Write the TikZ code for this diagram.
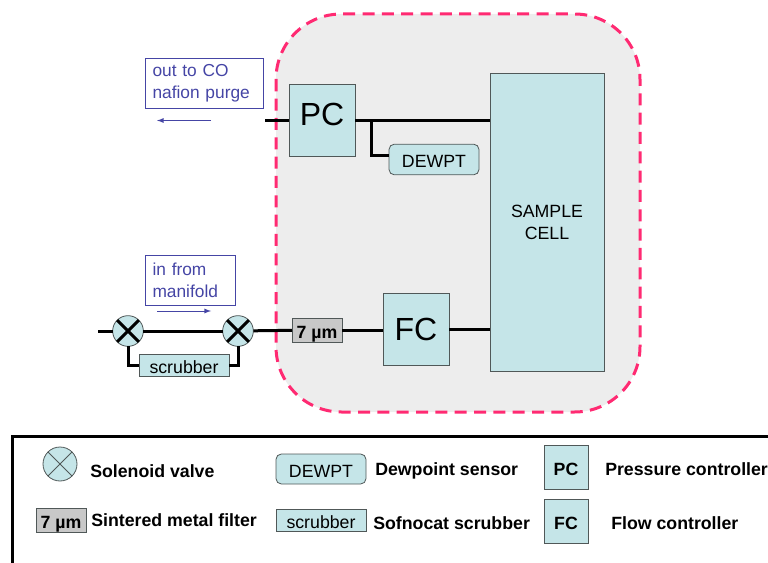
\documentclass[tikz,border=0pt]{standalone}
\usepackage{fontspec}
\setmainfont{Liberation Sans}
\usepackage{tikz}
\usetikzlibrary{arrows,calc}
\definecolor{paleCyan}{HTML}{C5E5E8}
\definecolor{cellGrey}{HTML}{EDEDED}
\definecolor{filterGrey}{HTML}{C8C8C8}
\definecolor{dashPink}{HTML}{FF2A72}
\definecolor{noteBlue}{HTML}{4545A5}
\definecolor{edgeGrey}{HTML}{505858}
\newcommand{\lowtxt}[1]{\raisebox{-1.5pt}[\height][0pt]{#1}}
\tikzstyle{pipe}=[line width=2.25pt, black]
\tikzstyle{flowArrow}=[->, >=latex, line width=0.7pt, noteBlue]
\tikzstyle{boxV}=[rectangle, fill=paleCyan, draw=edgeGrey, line width=0.6pt, inner sep=0pt, outer sep=0pt]
\tikzstyle{ctrlV}=[boxV, minimum width=49.5pt, minimum height=54pt, font=\fontsize{24}{28}\selectfont]
\tikzstyle{ctrlKeyV}=[boxV, minimum width=33pt, minimum height=33pt, font=\fontsize{13.3}{15}\selectfont\bfseries]
\tikzstyle{dewV}=[boxV, rounded corners=4pt, minimum width=67.5pt, minimum height=23pt, font=\fontsize{13.3}{15}\selectfont]
\tikzstyle{scrubV}=[boxV, minimum width=67.5pt, minimum height=16pt, font=\fontsize{13.3}{15}\selectfont]
\tikzstyle{filterV}=[boxV, fill=filterGrey, minimum width=37.5pt, minimum height=18pt, font=\fontsize{13.3}{15}\selectfont\bfseries]
\tikzstyle{valveV}=[circle, fill=paleCyan, draw=edgeGrey, line width=0.6pt, minimum size=23pt, inner sep=0pt, outer sep=0pt]
\tikzstyle{noteV}=[rectangle, draw=noteBlue, line width=0.7pt, text=noteBlue, align=left, inner sep=0pt, outer sep=0pt, font=\fontsize{13}{16.5}\selectfont]
\tikzstyle{keyText}=[anchor=west, inner sep=0pt, font=\fontsize{13.3}{15}\selectfont\bfseries]
\begin{document}
\begin{tikzpicture}[x=0.75pt, y=-0.75pt]
      \useasboundingbox (0,0) rectangle (768,563);
      %%%%%%%%%%%% Enclosure
      \draw[fill=cellGrey, draw=dashPink, line width=2.25pt, dash pattern=on 9pt off 5.5pt, rounded corners=49pt] (276,14) rectangle (640,412);
      %%%%%%%%%%%% Main flow diagram
      \node(cell) [boxV, minimum width=85.5pt, minimum height=223.5pt, align=center, font=\fontsize{13.3}{16.5}\selectfont] at (547,222){SAMPLE\\CELL};
      \node(pc) [ctrlV] at (322,120.5){\raisebox{5pt}[\height][0pt]{PC}};
      \node(fc) [ctrlV] at (416,329){FC};
      \node(dew) [dewV] at (434,159.5){\lowtxt{DEWPT}};
      \node(filter) [filterV] at (317,330){\lowtxt{7 µm}};
      \node(valveA) [valveV] at (128,331){};
      \node(valveB) [valveV] at (238,331){};
      \node(scrub) [scrubV] at (184,365.5){\lowtxt{scrubber}};
      \coordinate (outEnd) at (265,120.5);
      \coordinate (inEnd) at (98,331);
      \coordinate (tee) at (371,120.5);
      \coordinate (dewIn) at (389,156);
      \draw[pipe] (outEnd) to (pc);
      \draw[pipe] (pc) to (pc -| cell.west);
      \draw[pipe] (tee) |- (dewIn);
      \draw[pipe] (inEnd) to (valveA);
      \draw[pipe] (valveA) to (valveB);
      \draw[pipe] (valveB) to (filter);
      \draw[pipe] (filter) to (filter -| fc.west);
      \draw[pipe] (fc) to (fc -| cell.west);
      \draw[pipe] (valveA.south) |- (scrub.west);
      \draw[pipe] (valveB.south) |- (scrub.east);
      \draw[pipe] (valveA.45) to (valveA.225);
      \draw[pipe] (valveA.135) to (valveA.315);
      \draw[pipe] (valveB.45) to (valveB.225);
      \draw[pipe] (valveB.135) to (valveB.315);
      %%%%%%%%%%%% Flow notes
      \node(outNote) [noteV, minimum width=89pt, minimum height=37.5pt, text width=78pt] at (204.5,83){out to CO\\nafion purge};
      \node(inNote) [noteV, minimum width=68pt, minimum height=37.5pt, text width=57pt] at (190.5,280){in from\\manifold};
      \coordinate (outA) at (211,120.5);
      \coordinate (outB) at (157,120.5);
      \coordinate (inA) at (157,311);
      \coordinate (inB) at (211,311);
      \draw[flowArrow] (outA) to (outB);
      \draw[flowArrow] (inA) to (inB);
      %%%%%%%%%%%% Legend
      \coordinate (keyA) at (12.5,563);
      \coordinate (keyB) at (12.5,436);
      \coordinate (keyC) at (768,436);
      \draw[pipe] (keyA) to (keyB) to (keyC);
      \node(keyValve) [valveV, minimum size=25.5pt] at (60,464){};
      \draw[line width=0.6pt, edgeGrey] (keyValve.45) to (keyValve.225);
      \draw[line width=0.6pt, edgeGrey] (keyValve.135) to (keyValve.315);
      \node(keyValveT) [keyText] at (90,471){Solenoid valve};
      \node(keyDew) [dewV, minimum height=22.5pt] at (321,469){\lowtxt{DEWPT}};
      \node(keyDewT) [keyText] at (375,470.5){Dewpoint sensor};
      \node(keyPc) [ctrlKeyV] at (566,467){\lowtxt{PC}};
      \node(keyPcT) [keyText] at (605,469){Pressure controller};
      \node(keyFilter) [filterV] at (61,520){\lowtxt{7 µm}};
      \node(keyFilterT) [keyText] at (91,520){Sintered metal filter};
      \node(keyScrub) [scrubV] at (321,520.5){\lowtxt{scrubber}};
      \node(keyScrubT) [keyText] at (373,523){Sofnocat scrubber};
      \node(keyFc) [ctrlKeyV] at (566,521){\lowtxt{FC}};
      \node(keyFcT) [keyText] at (611,523){Flow controller};
\end{tikzpicture}
\end{document}
